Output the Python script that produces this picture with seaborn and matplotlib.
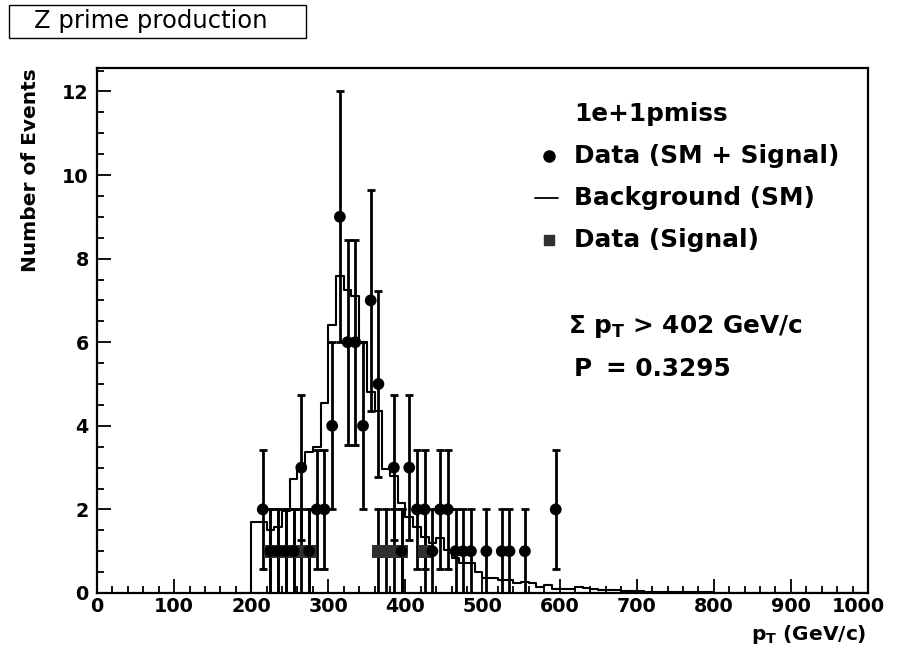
import numpy as np
import pandas as pd
import matplotlib
matplotlib.use("Agg")
import matplotlib.pyplot as plt
import matplotlib.transforms as mtransforms
import seaborn as sns
from matplotlib.ticker import MultipleLocator
from matplotlib.lines import Line2D
from matplotlib.patches import Rectangle

# ---------------- data ----------------
bin_width = 10
bg_low_edges = np.arange(190, 1000, bin_width)
bg_counts = [0.0,
             1.70, 1.70, 1.50, 1.58, 1.95, 2.73, 3.00, 3.38, 3.50, 4.55,
             6.40, 7.58, 7.25, 7.10, 6.00, 4.80, 4.35, 2.96, 2.79, 2.16,
             1.83, 1.59, 1.35, 1.19, 1.31, 1.03, 0.83, 0.71, 0.71, 0.50,
             0.35, 0.35, 0.31, 0.30, 0.25, 0.26, 0.25, 0.15, 0.19, 0.10,
             0.09, 0.09, 0.14, 0.13, 0.10, 0.08, 0.07, 0.06, 0.05, 0.04,
             0.04, 0.03, 0.03, 0.03, 0.02, 0.02, 0.02, 0.02, 0.02, 0.02,
             0.01, 0.01, 0.01, 0.01, 0.01, 0.01, 0.01, 0.01, 0.01, 0.01,
             0.01, 0.01, 0.01, 0.01, 0.01, 0.01, 0.01, 0.01, 0.01, 0.01]

data_pt = [215, 225, 235, 245, 255, 265, 275, 285, 295, 305, 315, 325, 335,
           345, 355, 365, 385, 395, 405, 415, 425, 435, 445, 455, 465, 475,
           485, 505, 525, 535, 555, 595]
data_n = [2, 1, 1, 1, 1, 3, 1, 2, 2, 4, 9, 6, 6,
          4, 7, 5, 3, 1, 3, 2, 2, 1, 2, 2, 1, 1,
          1, 1, 1, 1, 1, 2]

sig_pt = [225, 235, 245, 255, 265, 275, 365, 375, 385, 395, 425]
sig_n = [1, 1, 1, 1, 1, 1, 1, 1, 1, 1, 1]

x_ticks = [0, 100, 200, 300, 400, 500, 600, 700, 800, 900, 1000]
y_ticks = [0, 2, 4, 6, 8, 10, 12]

title_text = "Z prime production"
channel_text = "1e+1pmiss"
legend_labels = ["Data (SM + Signal)", "Background (SM)", "Data (Signal)"]
cut_text = "Σ p$_\\mathrm{T}$ > 402 GeV/c"
prob_label = "P"
prob_value = "= 0.3295"

# ---------------- style ----------------
sns.set_theme(style="white")
plt.rcParams["font.family"] = ["DejaVu Sans"]
plt.rcParams["text.color"] = "black"
plt.rcParams["axes.labelcolor"] = "black"
plt.rcParams["xtick.color"] = "black"
plt.rcParams["ytick.color"] = "black"
plt.rcParams["xtick.labelcolor"] = "black"
plt.rcParams["ytick.labelcolor"] = "black"
plt.rcParams["mathtext.fontset"] = "custom"
plt.rcParams["mathtext.rm"] = "DejaVu Sans:bold"
plt.rcParams["mathtext.bf"] = "DejaVu Sans:bold"
plt.rcParams["mathtext.it"] = "DejaVu Sans:bold"

W, H = 899, 654
fig = plt.figure(figsize=(W / 100, H / 100), dpi=100)
fig.patch.set_facecolor("white")
ax = fig.add_axes([97 / W, 61 / H, (868 - 97) / W, (593 - 68) / H])
ax.set_facecolor("white")

bg_df = pd.DataFrame({"pt": bg_low_edges + bin_width / 2, "w": bg_counts})
sns.histplot(data=bg_df, x="pt", weights="w", binwidth=bin_width,
             binrange=(float(bg_low_edges[0]), float(bg_low_edges[-1] + bin_width)),
             element="step", fill=False, color="black", linewidth=1.5, ax=ax)

sig_df = pd.DataFrame({"pt": sig_pt, "n": sig_n})
data_df = pd.DataFrame({"pt": data_pt, "n": data_n})

ax.errorbar(sig_df["pt"], sig_df["n"], yerr=np.sqrt(sig_df["n"]), fmt="none",
            ecolor="black", elinewidth=2.0, capsize=2.6, capthick=2.0, zorder=3)
ax.errorbar(data_df["pt"], data_df["n"], yerr=np.sqrt(data_df["n"]), fmt="none",
            ecolor="black", elinewidth=2.0, capsize=2.6, capthick=2.0, zorder=3)
sns.scatterplot(data=sig_df, x="pt", y="n", marker="s", s=90, color="#303030",
                edgecolor="none", ax=ax, zorder=4)
sns.scatterplot(data=data_df, x="pt", y="n", marker="o", s=72, color="black",
                edgecolor="none", ax=ax, zorder=5)

ax.set_xlim(0, 1000)
ax.set_ylim(0, 12.56)
ax.set_xticks(x_ticks)
ax.set_yticks(y_ticks)
ax.xaxis.set_minor_locator(MultipleLocator(20))
ax.yaxis.set_minor_locator(MultipleLocator(0.5))
ax.tick_params(axis="both", which="both", direction="in", top=False, right=False,
               bottom=True, left=True, color="black", width=1.3)
ax.tick_params(axis="both", which="major", length=10, labelsize=13.8,
               labelcolor="black")
ax.tick_params(axis="both", which="minor", length=5)
ax.tick_params(axis="x", which="major", pad=3)
ax.tick_params(axis="y", which="major", pad=6)
for lab in ax.get_xticklabels() + ax.get_yticklabels():
    lab.set_fontweight("bold")
    lab.set_color("black")
# ROOT pulls the last x label inward a bit
last = ax.get_xticklabels()[-1]
last.set_transform(last.get_transform() +
                   mtransforms.ScaledTranslation(-10 / 100, 0, fig.dpi_scale_trans))
for sp in ax.spines.values():
    sp.set_color("black")
    sp.set_linewidth(1.6)
ax.set_xlabel("")
ax.set_ylabel("")
ax.grid(False)

# axis titles (ROOT style, right/top aligned)
fig.text(31 / W, 1 - 68 / H, "Number of Events", rotation=90, ha="center",
         va="top", fontsize=14.5, fontweight="bold", color="black")
fig.text(866 / W, 1 - 634 / H, "p$_\\mathrm{T}$ (GeV/c)", ha="right",
         va="center", fontsize=14.5, fontweight="bold", color="black")

# title box
fig.add_artist(Rectangle((9 / W, 1 - 38 / H), (306 - 9) / W, 33 / H,
                         transform=fig.transFigure, fill=False,
                         edgecolor="black", linewidth=1.0))
fig.text(151 / W, 1 - 21 / H, title_text, ha="center", va="center",
         fontsize=17.5, color="black")

# legend / annotations
tx = 574 / W
fs = 17.8
fig.text(tx, 1 - 114 / H, channel_text, ha="left", va="center",
         fontsize=fs, fontweight="bold", color="black")
fig.add_artist(Line2D([549 / W], [1 - 156 / H], marker="o", markersize=8,
                      color="black", linestyle="none", transform=fig.transFigure))
fig.text(tx, 1 - 156 / H, legend_labels[0], ha="left", va="center",
         fontsize=fs, fontweight="bold", color="black")
fig.add_artist(Line2D([535 / W, 558 / W], [1 - 198 / H, 1 - 198 / H],
                      color="black", linewidth=1.3, transform=fig.transFigure))
fig.text(tx, 1 - 198 / H, legend_labels[1], ha="left", va="center",
         fontsize=fs, fontweight="bold", color="black")
fig.add_artist(Line2D([549 / W], [1 - 240 / H], marker="s", markersize=6.5,
                      color="#303030", linestyle="none", transform=fig.transFigure))
fig.text(tx, 1 - 240 / H, legend_labels[2], ha="left", va="center",
         fontsize=fs, fontweight="bold", color="black")

fig.text(568 / W, 1 - 326 / H, cut_text, ha="left", va="center",
         fontsize=fs, fontweight="bold", color="black")
fig.text(tx, 1 - 369 / H, prob_label, ha="left", va="center",
         fontsize=fs, fontweight="bold", color="black")
fig.text(606 / W, 1 - 369 / H, prob_value, ha="left", va="center",
         fontsize=fs, fontweight="bold", color="black")

fig.savefig("out.png", dpi=100, facecolor="white")
